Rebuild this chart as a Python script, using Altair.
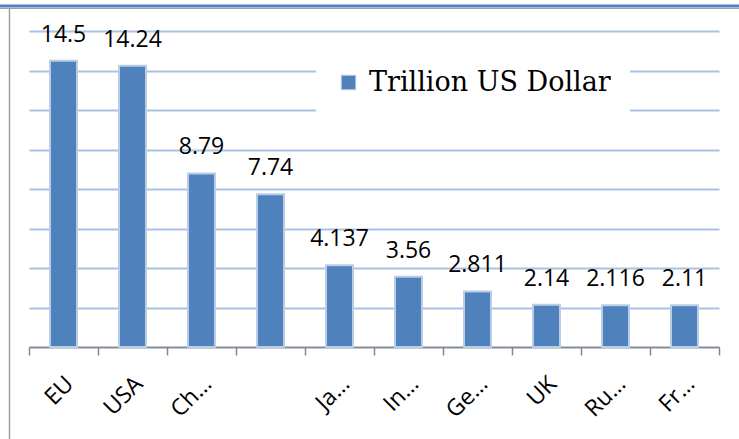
import altair as alt
import pandas as pd
import json

categories = ["EU", "USA", "China", "Country4", "Japan", "India", "Germany", "UK", "Russia", "France"]
tick_labels = ["EU", "USA", "Ch…", "", "Ja…", "In…", "Ge…", "UK", "Ru…", "Fr…"]
values = [14.5, 14.24, 8.79, 7.74, 4.137, 3.56, 2.811, 2.14, 2.116, 2.11]
value_text = ["14.5", "14.24", "8.79", "7.74", "4.137", "3.56", "2.811", "2.14", "2.116", "2.11"]
series_name = "Trillion US Dollar"

df = pd.DataFrame({
    "cat": categories,
    "val": values,
    "txt": value_text,
    "series": [series_name] * len(categories),
})

label_expr = "{0}[indexof({1}, datum.value)]".format(json.dumps(tick_labels, ensure_ascii=False),
                                                  json.dumps(categories))

x_enc = alt.X("cat:N", sort=categories, title=None,
              scale=alt.Scale(paddingInner=0, paddingOuter=0),
              axis=alt.Axis(labelExpr=label_expr, labelAngle=315, labelAlign="right",
                            labelBaseline="middle", labelPadding=25, labelOffset=6,
                            labelFont="Open Sans",
                            labelFontSize=23, labelColor="#000000", tickBand="extent",
                            tickSize=8, tickColor="#868686", domainColor="#868686",
                            domainWidth=1.5, tickWidth=1.5, grid=False))
y_enc = alt.Y("val:Q", title=None,
              scale=alt.Scale(domain=[0, 16], nice=False),
              axis=alt.Axis(labels=False, ticks=False, domain=False, grid=True, tickCount=8,
                            gridColor="#a9c2e5", gridWidth=2))

bars = alt.Chart(df).mark_bar(size=27, stroke="#b9cde5", strokeWidth=2).encode(
    x=x_enc,
    y=y_enc,
    color=alt.Color("series:N", title=None,
                    scale=alt.Scale(range=["#4f81bd"]),
                    legend=alt.Legend(orient="none", legendX=287, legendY=19,
                                      fillColor="white", padding=19,
                                      labelFont="DejaVu Serif", labelFontSize=27,
                                      labelColor="#000000", symbolType="square",
                                      symbolSize=210, symbolStrokeColor="#b9cde5",
                                      symbolStrokeWidth=1, labelOffset=7, labelLimit=400)),
)

labels = alt.Chart(df).mark_text(baseline="alphabetic", dy=-19, font="Open Sans",
                                 fontSize=23, color="#000000").encode(
    x=alt.X("cat:N", sort=categories),
    y="val:Q",
    text="txt:N",
)

one = alt.Data(values=[{}])
frame_blue = alt.Chart(one).mark_rule(color="#4f81bd", strokeWidth=3).encode(
    x=alt.value(-29), x2=alt.value(710), y=alt.value(-25))
frame_gray = alt.Chart(one).mark_rule(color="#a0a0a0", strokeWidth=1).encode(
    x=alt.value(-29), x2=alt.value(710), y=alt.value(-22.5))
frame_left = alt.Chart(one).mark_rule(color="#a0a0a0", strokeWidth=1.5).encode(
    x=alt.value(-19.5), y=alt.value(-23), y2=alt.value(420))

chart = alt.layer(bars, labels, frame_blue, frame_gray, frame_left).properties(
    width=690, height=316,
    autosize=alt.AutoSizeParams(type="none"),
    padding={"left": 29, "top": 31, "right": 20, "bottom": 92},
    background="white",
).configure_view(stroke=None)

chart.save("out.html", embed_options={"renderer": "svg", "actions": False})
